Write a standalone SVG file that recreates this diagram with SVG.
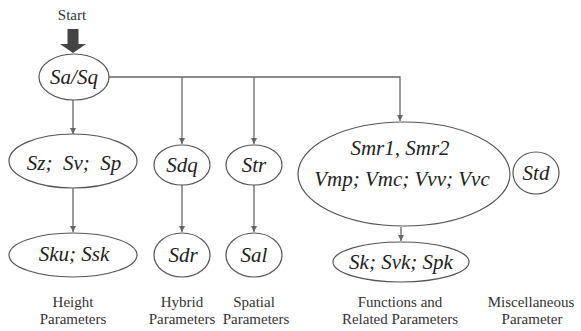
<svg xmlns="http://www.w3.org/2000/svg" width="581" height="331" viewBox="0 0 581 331">
<style>
.n{fill:#fff;stroke:#555;stroke-width:1.2}
.t{font-family:'Liberation Serif','Times New Roman','DejaVu Serif',serif;font-style:italic;font-size:21px;fill:#222;text-anchor:middle;white-space:pre}
.l{font-family:'Liberation Serif','Times New Roman','DejaVu Serif',serif;font-size:15px;fill:#333;text-anchor:middle}
.c{fill:none;stroke:#666;stroke-width:1.3}
</style>
<defs>
<marker id="a" viewBox="0 0 10 10" refX="10" refY="5" markerWidth="6" markerHeight="7" markerUnits="userSpaceOnUse" orient="auto"><path d="M0,0L10,5L0,10z" fill="#666"/></marker>
</defs>
<rect width="581" height="331" fill="#fff"/>
<text class="l" x="72" y="20">Start</text>
<path d="M67.5,29H78.5V44H86L73,53L60,44H67.5Z" fill="#444"/>
<g id="connectors">
<path class="c" d="M109,77H400V121" marker-end="url(#a)"/>
<path class="c" d="M73,100V134" marker-end="url(#a)"/>
<path class="c" d="M182,77V144" marker-end="url(#a)"/>
<path class="c" d="M254,77V144" marker-end="url(#a)"/>
<path class="c" d="M73,188V232" marker-end="url(#a)"/>
<path class="c" d="M182,185V232" marker-end="url(#a)"/>
<path class="c" d="M254,185V232" marker-end="url(#a)"/>
<path class="c" d="M401,227V241" marker-end="url(#a)"/>
</g>
<g id="sasq"><ellipse class="n" cx="74" cy="77" rx="35" ry="23"/><text class="t" x="74" y="84">Sa/Sq</text></g>
<g id="szsvsp"><ellipse class="n" cx="73" cy="161" rx="64" ry="27"/><text class="t" x="74" y="170">Sz;  Sv;  Sp</text></g>
<g id="skussk"><ellipse class="n" cx="73" cy="255" rx="64" ry="22"/><text class="t" x="74" y="261">Sku; Ssk</text></g>
<g id="sdq"><ellipse class="n" cx="182" cy="165" rx="28" ry="20"/><text class="t" x="182" y="172">Sdq</text></g>
<g id="sdr"><ellipse class="n" cx="182" cy="255" rx="28" ry="22"/><text class="t" x="183" y="262">Sdr</text></g>
<g id="str"><ellipse class="n" cx="254" cy="165" rx="28" ry="20"/><text class="t" x="254" y="172">Str</text></g>
<g id="sal"><ellipse class="n" cx="254" cy="255" rx="28" ry="22"/><text class="t" x="254" y="262">Sal</text></g>
<g id="smr"><ellipse class="n" cx="404" cy="174" rx="106" ry="52"/><text class="t" x="400" y="155">Smr1, Smr2</text><text class="t" x="402" y="186">Vmp; Vmc; Vvv; Vvc</text></g>
<g id="std"><ellipse class="n" cx="536" cy="173" rx="23" ry="21"/><text class="t" x="536" y="180">Std</text></g>
<g id="sksvkspk"><ellipse class="n" cx="401" cy="262" rx="68" ry="20"/><text class="t" x="401" y="269">Sk; Svk; Spk</text></g>
<g id="labels">
<text class="l" x="73" y="307">Height</text><text class="l" x="73" y="324">Parameters</text>
<text class="l" x="182" y="307">Hybrid</text><text class="l" x="182" y="324">Parameters</text>
<text class="l" x="254" y="307">Spatial</text><text class="l" x="256" y="324">Parameters</text>
<text class="l" x="400" y="307">Functions and</text><text class="l" x="400" y="324">Related Parameters</text>
<text class="l" x="531" y="307">Miscellaneous</text><text class="l" x="532" y="324">Parameter</text>
</g>
</svg>
